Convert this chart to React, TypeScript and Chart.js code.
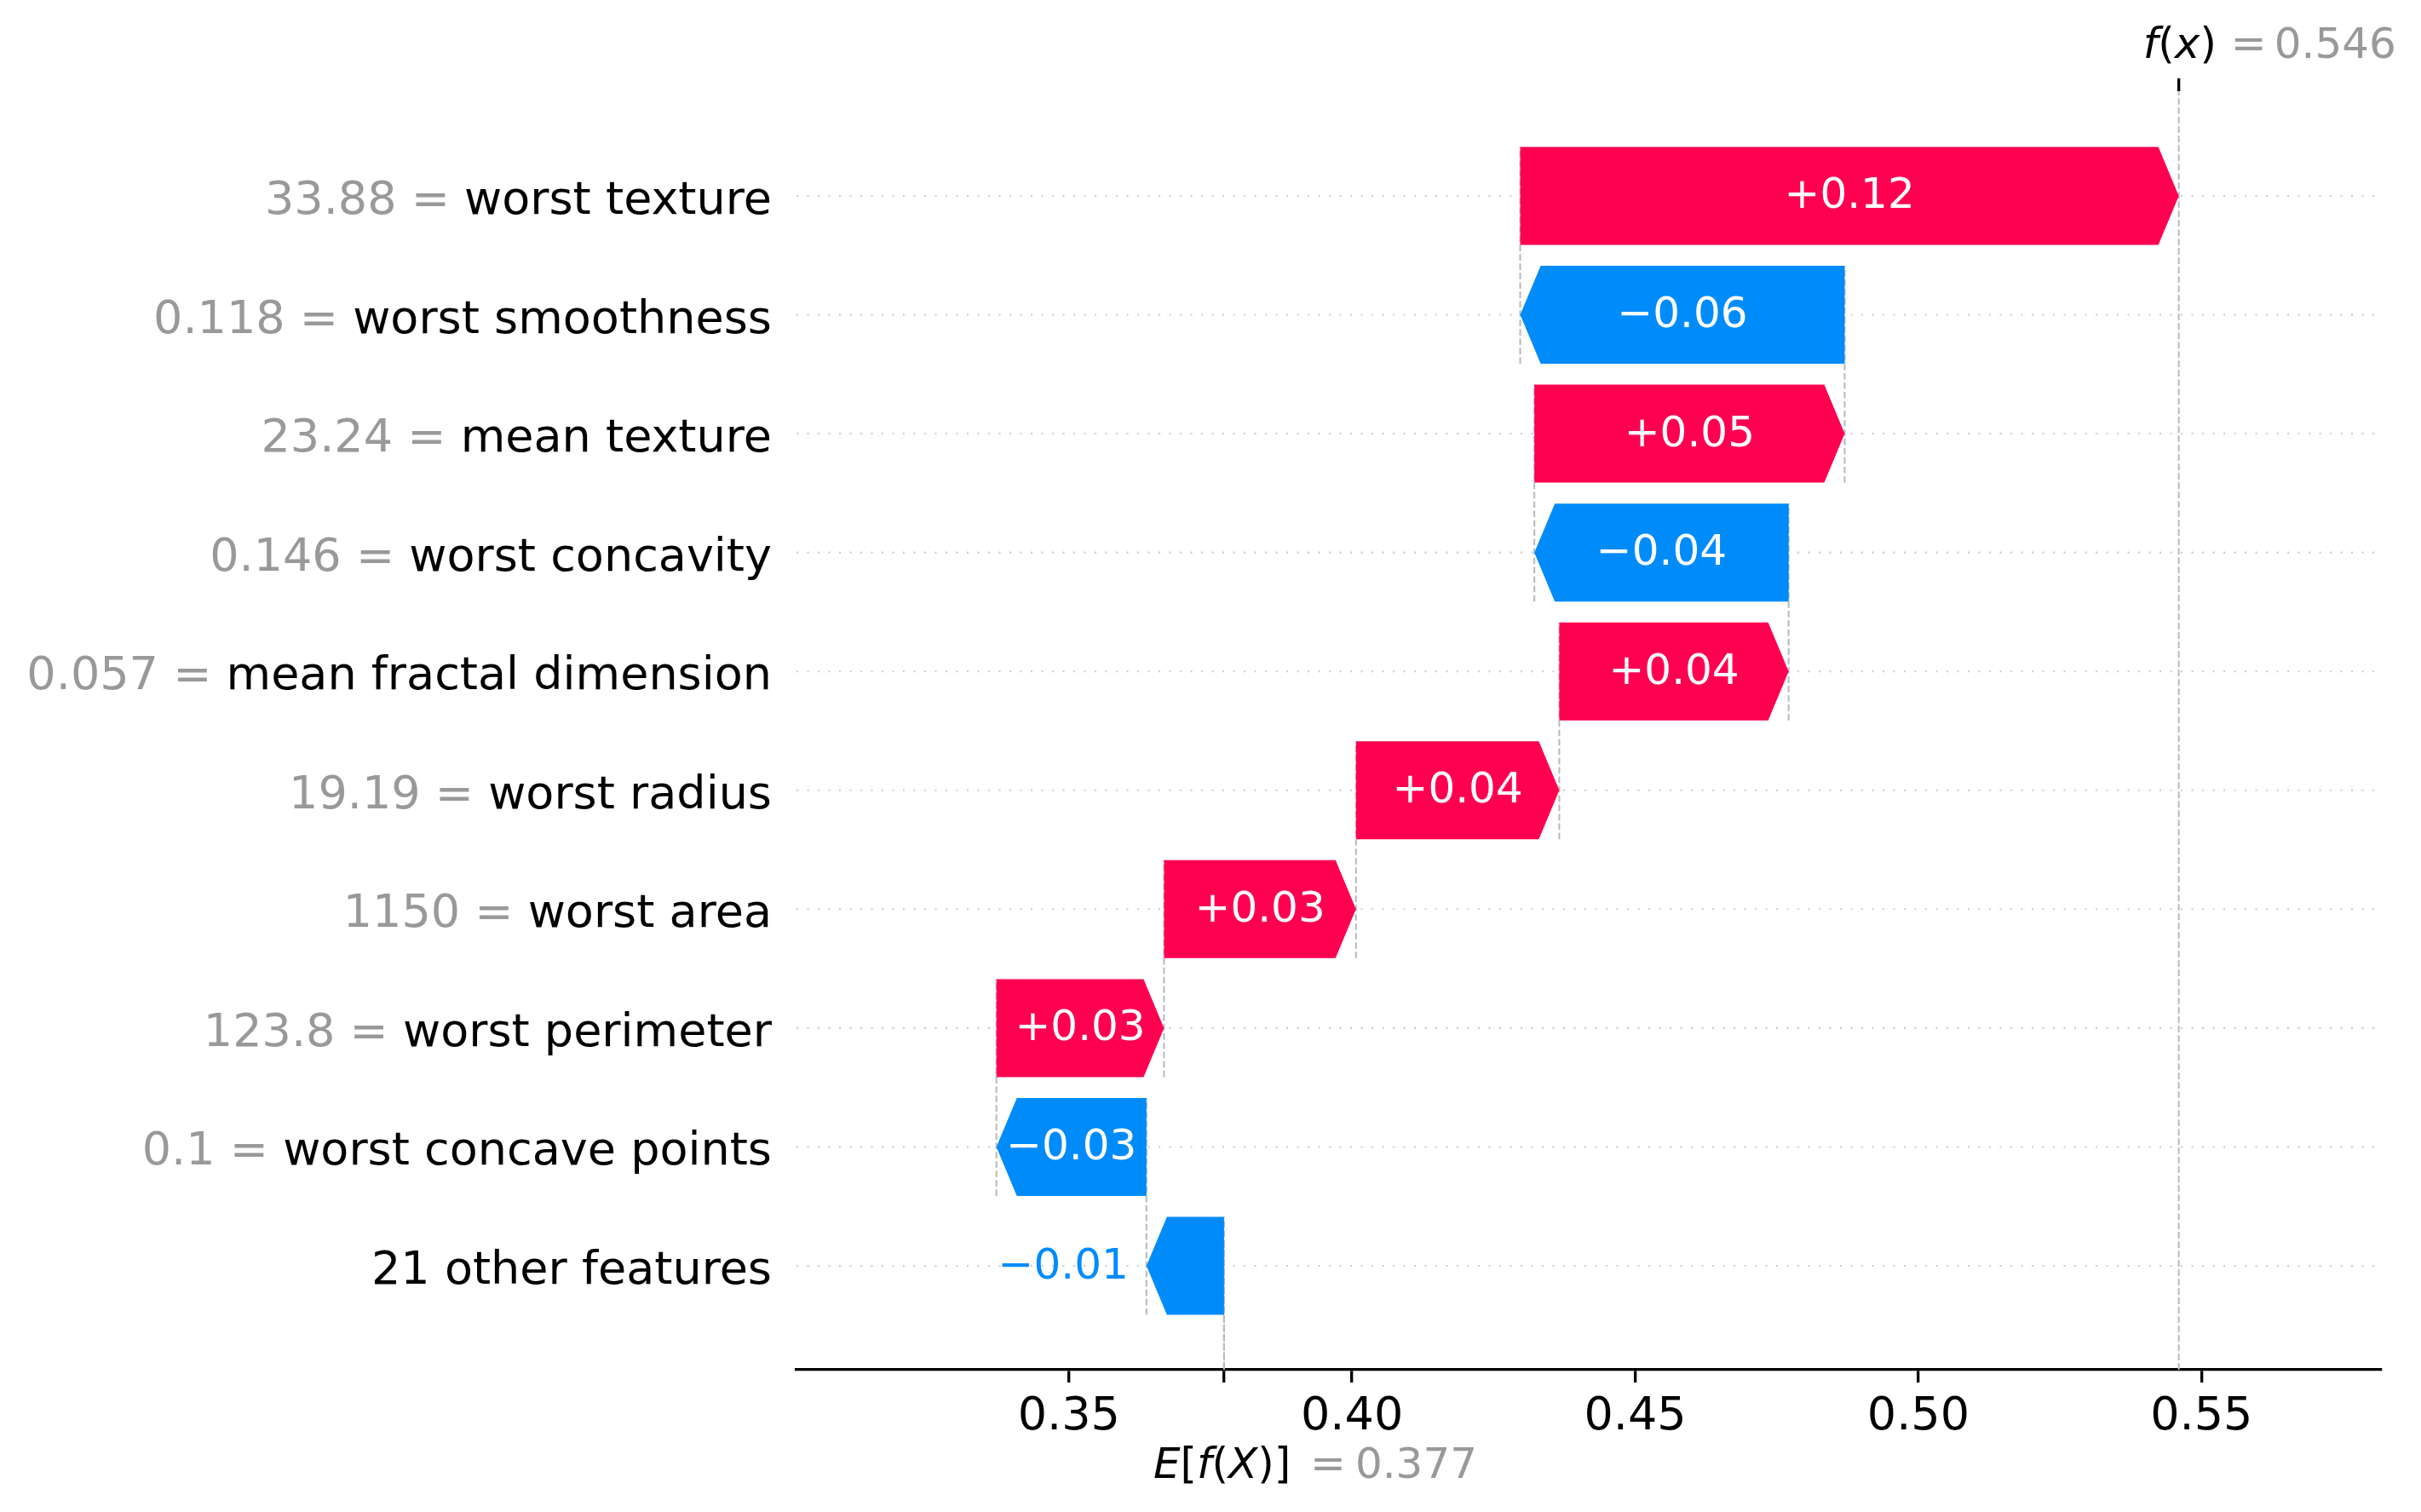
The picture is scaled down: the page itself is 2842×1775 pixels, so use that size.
import React, { useEffect, useRef } from 'react';
import { Chart, registerables } from 'chart.js';

Chart.register(...registerables);

// ---- data ----
const featureValues = ["33.88", "0.118", "23.24", "0.146", "0.057", "19.19", "1150", "123.8", "0.1", ""];
const featureNames = [
  "worst texture",
  "worst smoothness",
  "mean texture",
  "worst concavity",
  "mean fractal dimension",
  "worst radius",
  "worst area",
  "worst perimeter",
  "worst concave points",
  "21 other features",
];
const shapValues = [0.1163, -0.0573, 0.0548, -0.0449, 0.0405, 0.0359, 0.0339, 0.0296, -0.0265, -0.0137];
const baseValue = 0.3774;
const xTickValues = [0.35, 0.40, 0.45, 0.50, 0.55];
const xTickLabels = ["0.35", "0.40", "0.45", "0.50", "0.55"];
const xMin = 0.3019;
const xMax = 0.5817;
const yMin = -0.874;
const yMax = 9.881;

const RED = '#ff0051';
const BLUE = '#008bfb';
const FONT = '"DejaVu Sans"';
const BAR_FRAC = 0.824;

function fmtSigned(v: number) {
  return (v >= 0 ? '+' : '\u2212') + Math.abs(v).toFixed(2);
}

type Part = { t: string; it: boolean };

function drawParts(ctx: CanvasRenderingContext2D, parts: Part[], x: number, y: number, size: number, color: string) {
  let cx = x;
  ctx.fillStyle = color;
  ctx.textAlign = 'left';
  ctx.textBaseline = 'alphabetic';
  for (const p of parts) {
    ctx.font = `${p.it ? 'oblique ' : ''}${size}px ${FONT}`;
    ctx.fillText(p.t, cx, y);
    cx += ctx.measureText(p.t).width;
  }
}

export default function App() {
  const ref = useRef<HTMLCanvasElement>(null);

  useEffect(() => {
    const canvas = ref.current;
    if (!canvas) return;
    const n = featureNames.length;
    const yPos = featureNames.map((_, i) => n - 1 - i);
    const starts: number[] = new Array(n);
    const ends: number[] = new Array(n);
    let loc = baseValue;
    for (let i = n - 1; i >= 0; i--) {
      starts[i] = loc;
      loc += shapValues[i];
      ends[i] = loc;
    }
    const fx = loc;
    const colors = shapValues.map((v) => (v >= 0 ? RED : BLUE));

    const getHalf = (chart: any) => {
      const ys = chart.scales.y;
      const unit = Math.abs(ys.getPixelForValue(1) - ys.getPixelForValue(0));
      return (BAR_FRAC / 2) * unit;
    };

    const plugin = {
      id: 'waterfall',
      beforeDatasetsDraw(chart: any) {
        const { ctx, chartArea: ca } = chart;
        const xs = chart.scales.x;
        const ys = chart.scales.y;
        const half = getHalf(chart);
        ctx.save();
        ctx.beginPath();
        ctx.rect(ca.left, ca.top, ca.right - ca.left, ca.bottom - ca.top);
        ctx.clip();
        // dotted row grid lines
        ctx.strokeStyle = '#cccccc';
        ctx.lineWidth = 2.08;
        ctx.lineCap = 'butt';
        ctx.setLineDash([2.1, 10.4]);
        for (let i = 0; i < n; i++) {
          const y = ys.getPixelForValue(yPos[i]);
          ctx.beginPath();
          ctx.moveTo(ca.left, y);
          ctx.lineTo(ca.right, y);
          ctx.stroke();
        }
        // dashed connectors
        ctx.strokeStyle = '#bbbbbb';
        ctx.setLineDash([7.7, 3.3]);
        for (let i = 0; i < n; i++) {
          const x = xs.getPixelForValue(starts[i]);
          const yTop = ys.getPixelForValue(yPos[i]) - half;
          const yBot = ys.getPixelForValue(yPos[i] - 1) + half;
          ctx.beginPath();
          ctx.moveTo(x, yBot);
          ctx.lineTo(x, yTop);
          ctx.stroke();
        }
        const bx = xs.getPixelForValue(baseValue);
        ctx.beginPath();
        ctx.moveTo(bx, ca.bottom);
        ctx.lineTo(bx, ca.bottom - (ca.bottom - ca.top) / n);
        ctx.stroke();
        const fxp = xs.getPixelForValue(fx);
        ctx.beginPath();
        ctx.moveTo(fxp, ca.bottom);
        ctx.lineTo(fxp, ca.top);
        ctx.stroke();
        ctx.restore();
      },
      beforeDatasetDraw() {
        return false;
      },
      afterDatasetsDraw(chart: any) {
        const { ctx, chartArea: ca } = chart;
        const xs = chart.scales.x;
        const ys = chart.scales.y;
        const half = getHalf(chart);
        ctx.save();
        // arrows
        for (let i = 0; i < n; i++) {
          const x0 = xs.getPixelForValue(starts[i]);
          const x1 = xs.getPixelForValue(ends[i]);
          const yc = ys.getPixelForValue(yPos[i]);
          const dir = x1 >= x0 ? 1 : -1;
          const len = Math.abs(x1 - x0);
          const hl = Math.min(24, len);
          const xh = x1 - dir * hl;
          ctx.fillStyle = colors[i];
          ctx.beginPath();
          ctx.moveTo(x0, yc - half);
          ctx.lineTo(xh, yc - half);
          ctx.lineTo(x1, yc);
          ctx.lineTo(xh, yc + half);
          ctx.lineTo(x0, yc + half);
          ctx.closePath();
          ctx.fill();
          // value label
          const label = fmtSigned(shapValues[i]);
          ctx.font = `50px ${FONT}`;
          ctx.textBaseline = 'alphabetic';
          const tw = ctx.measureText(label).width;
          const ly = yc + 14.5;
          if (tw <= len) {
            ctx.fillStyle = '#ffffff';
            ctx.textAlign = 'center';
            ctx.fillText(label, (x0 + x1) / 2, ly);
          } else if (dir > 0) {
            ctx.fillStyle = RED;
            ctx.textAlign = 'left';
            ctx.fillText(label, x1 + 21, ly);
          } else {
            ctx.fillStyle = BLUE;
            ctx.textAlign = 'right';
            ctx.fillText(label, x1 - 21, ly);
          }
        }
        // y labels
        const xr = xs.left - 29;
        ctx.font = `54px ${FONT}`;
        ctx.textBaseline = 'alphabetic';
        ctx.textAlign = 'right';
        for (let i = 0; i < n; i++) {
          const y = ys.getPixelForValue(yPos[i]) + 21;
          ctx.fillStyle = '#000000';
          ctx.fillText(featureNames[i], xr, y);
          if (featureValues[i] !== '') {
            const w = ctx.measureText(featureNames[i]).width;
            ctx.fillStyle = '#999999';
            ctx.fillText(featureValues[i] + ' = ', xr - w, y);
          }
        }
        // f(x) label
        const fxp = xs.getPixelForValue(fx);
        const ty = ca.top - 39;
        drawParts(ctx, [
          { t: 'f', it: true }, { t: '(', it: false }, { t: 'x', it: true }, { t: ')', it: false },
        ], fxp - 42, ty, 50, '#000000');
        ctx.font = `50px ${FONT}`;
        ctx.fillStyle = '#999999';
        ctx.textAlign = 'left';
        ctx.fillText('=', fxp + 61, ty);
        ctx.fillText(fx.toFixed(3), fxp + 112, ty);
        // E[f(X)] label
        const bp = xs.getPixelForValue(baseValue);
        const by = ca.bottom + 127;
        drawParts(ctx, [
          { t: 'E', it: true }, { t: '[', it: false }, { t: 'f', it: true }, { t: '(', it: false },
          { t: 'X', it: true }, { t: ')', it: false }, { t: ']', it: false },
        ], bp - 83, by, 50, '#000000');
        ctx.font = `50px ${FONT}`;
        ctx.fillStyle = '#999999';
        ctx.textAlign = 'left';
        ctx.fillText('=', bp + 101, by);
        ctx.fillText(baseValue.toFixed(3), bp + 154, by);
        ctx.restore();
      },
    };

    Chart.defaults.font.family = FONT;

    const chart = new Chart(canvas, {
      type: 'bar',
      data: {
        datasets: [
          {
            label: 'SHAP',
            data: featureNames.map((_, i) => ({ y: yPos[i], x: [starts[i], ends[i]] })) as any,
            backgroundColor: colors,
            barPercentage: BAR_FRAC,
            categoryPercentage: 1,
            xAxisID: 'x',
            yAxisID: 'y',
          },
        ],
      },
      options: {
        indexAxis: 'y',
        responsive: false,
        animation: false,
        devicePixelRatio: 1,
        layout: { padding: { left: 935, right: 47, top: 0, bottom: 0 } },
        plugins: { legend: { display: false }, tooltip: { enabled: false } },
        scales: {
          y: {
            type: 'linear',
            min: yMin,
            max: yMax,
            display: false,
            offset: false,
          },
          x: {
            type: 'linear',
            position: 'bottom',
            min: xMin,
            max: xMax,
            afterBuildTicks: (scale: any) => {
              scale.ticks = [...xTickValues, baseValue].sort((a, b) => a - b).map((v) => ({ value: v }));
            },
            afterFit: (scale: any) => {
              scale.height = 167;
            },
            ticks: {
              autoSkip: false,
              maxRotation: 0,
              color: '#000000',
              padding: 9,
              font: { size: 54, family: FONT },
              callback: (value: any) => {
                const k = xTickValues.findIndex((t) => Math.abs(t - Number(value)) < 1e-9);
                return k >= 0 ? xTickLabels[k] : '';
              },
            },
            grid: {
              drawOnChartArea: false,
              drawTicks: true,
              tickLength: 15,
              color: '#000000',
              lineWidth: 3.33,
            },
            border: { display: true, color: '#000000', width: 3.33 },
          },
          x2: {
            type: 'linear',
            axis: 'x',
            position: 'top',
            min: xMin,
            max: xMax,
            afterBuildTicks: (scale: any) => {
              scale.ticks = [{ value: fx }];
            },
            afterFit: (scale: any) => {
              scale.height = 107;
            },
            ticks: { display: false },
            grid: {
              drawOnChartArea: false,
              drawTicks: true,
              tickLength: 15,
              color: '#000000',
              lineWidth: 3.33,
            },
            border: { display: false },
          },
        } as any,
      },
      plugins: [plugin],
    });
    return () => chart.destroy();
  }, []);

  return (
    <div style={{ position: 'fixed', left: 0, top: 0, width: 2842, height: 1775, background: '#ffffff' }}>
      <canvas ref={ref} width={2842} height={1775} style={{ display: 'block', width: 2842, height: 1775 }} />
    </div>
  );
}
